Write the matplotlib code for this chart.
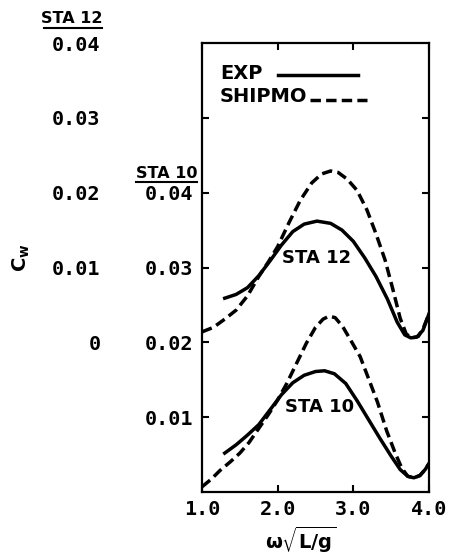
import matplotlib
matplotlib.use('Agg')
import matplotlib.pyplot as plt
from matplotlib.lines import Line2D

plt.rcParams['mathtext.fontset'] = 'dejavusans'

# Station 10 (plotted on its own scale, 0 at bottom)
sta10_exp_x = [1.30, 1.45, 1.60, 1.75, 1.90, 2.05, 2.20, 2.35, 2.50, 2.62, 2.75, 2.90,
               3.05, 3.20, 3.35, 3.50, 3.62, 3.72, 3.80, 3.88, 3.95, 4.00]
sta10_exp_y = [0.0052, 0.0063, 0.0076, 0.0090, 0.0110, 0.0130, 0.0146, 0.0156, 0.0161, 0.0162,
               0.0158, 0.0145, 0.0122, 0.0097, 0.0072, 0.0048, 0.0030, 0.0021, 0.0019, 0.0022,
               0.0030, 0.0038]
sta10_ship_x = [1.00, 1.12, 1.24, 1.37, 1.50, 1.62, 1.75, 1.88, 2.00, 2.12, 2.25, 2.38, 2.50,
                2.60, 2.68, 2.76, 2.86, 2.97, 3.09, 3.20, 3.32, 3.44, 3.55, 3.64, 3.72, 3.80,
                3.88, 3.95, 4.00]
sta10_ship_y = [0.0007, 0.0017, 0.0029, 0.0040, 0.0052, 0.0066, 0.0085, 0.0104, 0.0123, 0.0145,
                0.0172, 0.0199, 0.0220, 0.0231, 0.0235, 0.0233, 0.0221, 0.0202, 0.0181, 0.0152,
                0.0120, 0.0082, 0.0053, 0.0032, 0.0021, 0.0019, 0.0022, 0.0030, 0.0038]

# Station 12 (own scale, shifted up by 0.02 on the plot)
sta12_exp_x = [1.30, 1.45, 1.60, 1.75, 1.90, 2.05, 2.20, 2.35, 2.52, 2.70, 2.85, 3.00, 3.15,
               3.30, 3.45, 3.58, 3.68, 3.76, 3.84, 3.92, 4.00]
sta12_exp_y = [0.0059, 0.0064, 0.0073, 0.0089, 0.0109, 0.0130, 0.0148, 0.0158, 0.0162, 0.0159,
               0.0150, 0.0135, 0.0113, 0.0088, 0.0058, 0.0027, 0.0010, 0.0006, 0.0007, 0.0016,
               0.0038]
sta12_ship_x = [1.00, 1.15, 1.30, 1.45, 1.60, 1.75, 1.88, 2.00, 2.15, 2.30, 2.45, 2.58, 2.70,
                2.80, 2.92, 3.05, 3.18, 3.30, 3.42, 3.52, 3.62, 3.70, 3.78, 3.86, 3.93, 4.00]
sta12_ship_y = [0.0014, 0.0020, 0.0031, 0.0043, 0.0062, 0.0088, 0.0108, 0.0128, 0.0160, 0.0190,
                0.0213, 0.0225, 0.0229, 0.0227, 0.0218, 0.0203, 0.0177, 0.0145, 0.0110, 0.0072,
                0.0032, 0.0011, 0.0006, 0.0008, 0.0020, 0.0038]
STA12_SHIFT = 0.02

x_ticks = [1.0, 2.0, 3.0, 4.0]
x_tick_labels = ['1.0', '2.0', '3.0', '4.0']
sta10_ticks = [0.01, 0.02, 0.03, 0.04, 0.05]
sta10_tick_labels = ['0.01', '0.02', '0.03', '0.04', '']
sta12_ticks = [0.0, 0.01, 0.02, 0.03, 0.04]
sta12_tick_labels = ['0', '0.01', '0.02', '0.03', '0.04']

label_font = 'DejaVu Sans'
mono_font = 'DejaVu Sans Mono'

fig = plt.figure(figsize=(4.52, 5.55), dpi=100)
ax = fig.add_axes([0.447, 0.1135, 0.502, 0.809])

lw = 2.5
dash = (3.0, 1.5)
ax.plot(sta10_exp_x, sta10_exp_y, color='black', lw=lw)
ax.plot(sta10_ship_x, sta10_ship_y, color='black', lw=lw, dashes=dash)
ax.plot(sta12_exp_x, [v + STA12_SHIFT for v in sta12_exp_y], color='black', lw=lw)
ax.plot(sta12_ship_x, [v + STA12_SHIFT for v in sta12_ship_y], color='black', lw=lw, dashes=dash)

ax.set_xlim(1.0, 4.0)
ax.set_ylim(0.0, 0.06)
ax.set_xticks(x_ticks)
ax.set_xticklabels(x_tick_labels, family=mono_font, weight='bold', fontsize=14.5)
ax.set_yticks(sta10_ticks)
ax.set_yticklabels(sta10_tick_labels, family=mono_font, weight='bold', fontsize=14.5)
ax.tick_params(direction='in', top=True, right=True, length=5, width=1.5)
ax.tick_params(axis='x', pad=6)
ax.tick_params(axis='y', pad=6.5)
for s in ax.spines.values():
    s.set_linewidth(1.6)

# second scale for station 12, sharing the same axis
sec = ax.secondary_yaxis('left', functions=(lambda y: y - STA12_SHIFT, lambda y: y + STA12_SHIFT))
sec.set_yticks(sta12_ticks)
sec.set_yticklabels(sta12_tick_labels, family=mono_font, weight='bold', fontsize=14.5)
sec.tick_params(length=0, pad=73)
sec.spines['left'].set_visible(False)

# curve labels
ax.text(2.52, 0.0313, 'STA 12', family=label_font, weight='bold', fontsize=13, ha='center', va='center')
ax.text(2.55, 0.0113, 'STA 10', family=label_font, weight='bold', fontsize=13, ha='center', va='center')

# key, text first then line sample
ax.text(0.079, 0.931, 'EXP', transform=ax.transAxes, family=label_font, weight='bold',
        fontsize=14, ha='left', va='center')
ax.add_line(Line2D([0.335, 0.687], [0.929, 0.929], transform=ax.transAxes, color='black', lw=lw))
ax.text(0.079, 0.880, 'SHIPMO', transform=ax.transAxes, family=label_font, weight='bold',
        fontsize=14, ha='left', va='center')
ax.add_line(Line2D([0.476, 0.727], [0.873, 0.873], transform=ax.transAxes, color='black', lw=lw,
                   dashes=dash))

# scale headers
fig.text(0.226, 0.966, 'STA 12', family=label_font, weight='bold', fontsize=11.5, ha='right', va='center')
fig.add_artist(Line2D([0.097, 0.226], [0.950, 0.950], color='black', lw=1.5, transform=fig.transFigure))
fig.text(0.436, 0.688, 'STA 10', family=label_font, weight='bold', fontsize=11.5, ha='right', va='center')
fig.add_artist(Line2D([0.300, 0.436], [0.672, 0.672], color='black', lw=1.5, transform=fig.transFigure))

ax.set_xlabel(r'$\mathbf{\omega}\sqrt{\mathbf{L/g}}$', fontsize=14)
ax.xaxis.set_label_coords(0.432, -0.072)
fig.text(0.048, 0.535, r'$\mathbf{C}_{\mathbf{w}}$', fontsize=14, rotation=90, ha='center', va='center')

fig.savefig('out.png', dpi=100)
